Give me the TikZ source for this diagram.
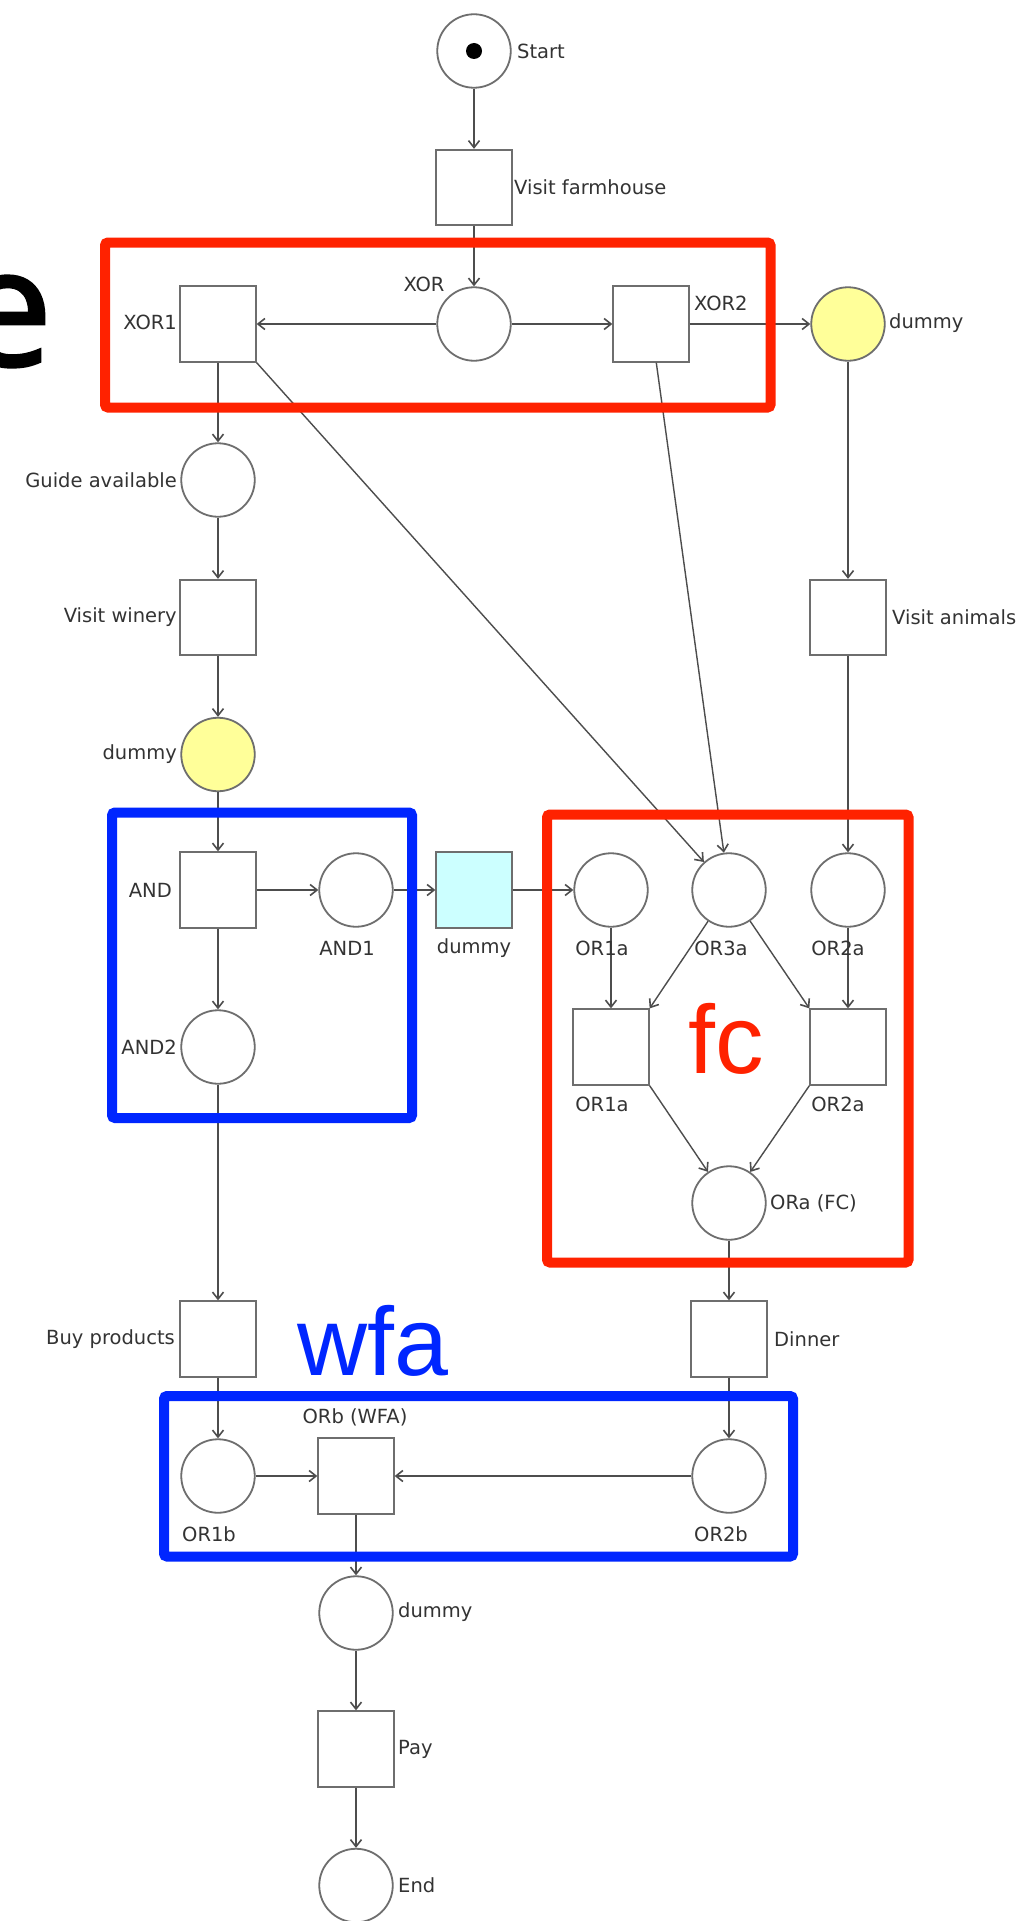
\documentclass[tikz,border=0pt]{standalone}
\usepackage{fontspec}
\setmainfont{DejaVu Sans}
\newfontfamily\bigsans{Liberation Sans}
\newfontfamily\efont[FakeBold=1.2]{Noto Sans}
\usetikzlibrary{arrows.meta}
\definecolor{hlred}{HTML}{FF2200}
\definecolor{hlblue}{HTML}{0026FF}
\definecolor{tokyellow}{HTML}{FFFF99}
\definecolor{dumcyan}{HTML}{CCFFFF}
\definecolor{edgegray}{HTML}{4D4D4D}
\definecolor{nodegray}{HTML}{6E6E6E}
\definecolor{txtgray}{HTML}{333333}
\begin{document}
\begin{tikzpicture}[x=1pt,y=-1pt,
  place/.style={circle,draw=nodegray,line width=1.8pt,minimum size=73.5pt,inner sep=0pt,fill=white},
  trans/.style={rectangle,draw=nodegray,line width=1.8pt,minimum size=75.5pt,inner sep=0pt,fill=white},
  lbl/.style={font=\fontsize{19.5}{22}\selectfont,text=txtgray,inner sep=0pt},
  flow/.style={draw=edgegray,line width=1.4pt,-{Straight Barb[length=7pt,width=11pt,line width=1.6pt]}},
  hlbox/.style={draw,line width=10pt,rounded corners=3pt,inner sep=0pt,fill=none},
  bigtxt/.style={font=\bigsans\fontsize{97}{97}\selectfont,inner sep=0pt},
]
\useasboundingbox (0,0) rectangle (1024,1921);
\fill[white] (0,0) rectangle (1024,1921);

% places and transitions
\node[place] (start) at (474,51) {};
\node[circle,fill=black,minimum size=16pt,inner sep=0pt] (token) at (start) {};
\node[trans] (farm) at (474,187.5) {};
\node[place] (xor) at (474,324) {};
\node[trans] (xor1) at (218,324) {};
\node[trans] (xor2) at (651,324) {};
\node[place,fill=tokyellow] (dumY1) at (848,324) {};
\node[place] (guide) at (218,480) {};
\node[trans] (winery) at (218,617.5) {};
\node[trans] (animals) at (848,617.5) {};
\node[place,fill=tokyellow] (dumY2) at (218,754.5) {};
\node[trans] (and) at (218,890) {};
\node[place] (and1) at (356,890) {};
\node[trans,fill=dumcyan] (dumC) at (474,890) {};
\node[place] (or1ap) at (611,890) {};
\node[place] (or3a) at (729,890) {};
\node[place] (or2ap) at (848,890) {};
\node[place] (and2) at (218,1047) {};
\node[trans] (or1at) at (611,1047) {};
\node[trans] (or2at) at (848,1047) {};
\node[place] (ora) at (729,1203) {};
\node[trans] (buy) at (218,1339) {};
\node[trans] (dinner) at (729,1339) {};
\node[place] (or1b) at (218,1476) {};
\node[trans] (orb) at (356,1476) {};
\node[place] (or2b) at (729,1476) {};
\node[place] (dumB) at (356,1613) {};
\node[trans] (pay) at (356,1749) {};
\node[place] (end) at (356,1885.5) {};

% arcs
\draw[flow] (start) -- (farm);
\draw[flow] (farm) -- (xor);
\draw[flow] (xor) -- (xor1);
\draw[flow] (xor) -- (xor2);
\draw[flow] (xor2) -- (dumY1);
\draw[flow] (xor1) -- (guide);
\draw[flow] (xor1.south east) -- (or3a);
\draw[flow] (xor2) -- (or3a);
\draw[flow] (dumY1) -- (animals);
\draw[flow] (animals) -- (or2ap);
\draw[flow] (guide) -- (winery);
\draw[flow] (winery) -- (dumY2);
\draw[flow] (dumY2) -- (and);
\draw[flow] (and) -- (and1);
\draw[flow] (and1) -- (dumC);
\draw[flow] (dumC) -- (or1ap);
\draw[flow] (and) -- (and2);
\draw[flow] (and2) -- (buy);
\draw[flow] (or1ap) -- (or1at);
\draw[flow] (or3a) -- (or1at.north east);
\draw[flow] (or3a) -- (or2at.north west);
\draw[flow] (or2ap) -- (or2at);
\draw[flow] (or1at.south east) -- (ora);
\draw[flow] (or2at.south west) -- (ora);
\draw[flow] (ora) -- (dinner);
\draw[flow] (buy) -- (or1b);
\draw[flow] (dinner) -- (or2b);
\draw[flow] (or1b) -- (orb);
\draw[flow] (or2b) -- (orb);
\draw[flow] (orb) -- (dumB);
\draw[flow] (dumB) -- (pay);
\draw[flow] (pay) -- (end);

% labels
\node[lbl,anchor=west] (tStart) at (517,51) {Start};
\node[lbl,anchor=west] (tFarm) at (514,187) {Visit farmhouse};
\node[lbl] (tXor) at (424,284) {XOR};
\node[lbl,anchor=east] (tXor1) at (177,322) {XOR1};
\node[lbl,anchor=west] (tXor2) at (694,303) {XOR2};
\node[lbl,anchor=west] (tDumY1) at (889,323) {dummy};
\node[lbl,anchor=east] (tGuide) at (177,480) {Guide available};
\node[lbl,anchor=east] (tWinery) at (177,617) {Visit winery};
\node[lbl,anchor=west] (tAnimals) at (892,617) {Visit animals};
\node[lbl,anchor=east] (tDumY2) at (177,754) {dummy};
\node[lbl,anchor=east] (tAnd) at (172,890) {AND};
\node[lbl] (tAnd1) at (347,948) {AND1};
\node[lbl] (tDumC) at (474,948) {dummy};
\node[lbl] (tOr1ap) at (602,948) {OR1a};
\node[lbl] (tOr3a) at (721,948) {OR3a};
\node[lbl] (tOr2ap) at (838,948) {OR2a};
\node[lbl,anchor=east] (tAnd2) at (177,1047) {AND2};
\node[lbl] (tOr1at) at (602,1104) {OR1a};
\node[lbl] (tOr2at) at (838,1104) {OR2a};
\node[lbl,anchor=west] (tOra) at (770,1203) {ORa (FC)};
\node[lbl,anchor=east] (tBuy) at (175,1339) {Buy products};
\node[lbl,anchor=west] (tDinner) at (774,1339) {Dinner};
\node[lbl] (tOrb) at (355,1417) {ORb (WFA)};
\node[lbl] (tOr1b) at (209,1534) {OR1b};
\node[lbl] (tOr2b) at (721,1534) {OR2b};
\node[lbl,anchor=west] (tDumB) at (398,1612) {dummy};
\node[lbl,anchor=west] (tPay) at (398,1749) {Pay};
\node[lbl,anchor=west] (tEnd) at (398,1885) {End};

% highlight boxes and annotations
\node[hlbox,draw=hlred,minimum width=665.5pt,minimum height=165pt] (boxXor) at (437.75,325) {};
\node[hlbox,draw=hlred,minimum width=361.5pt,minimum height=448pt] (boxFc) at (727.75,1038.5) {};
\node[hlbox,draw=hlblue,minimum width=300pt,minimum height=305.5pt] (boxAnd) at (262,965.25) {};
\node[hlbox,draw=hlblue,minimum width=629pt,minimum height=160.5pt] (boxWfa) at (478.5,1476.25) {};
\node[bigtxt,text=hlred,anchor=base west] (fc) at (688,1073) {fc};
\node[bigtxt,text=hlblue,anchor=base west] (wfa) at (297,1375) {wfa};
\node[font=\efont\fontsize{166}{166}\selectfont,anchor=base east,inner sep=0pt] (bigE) at (53,366) {e};
\end{tikzpicture}
\end{document}
